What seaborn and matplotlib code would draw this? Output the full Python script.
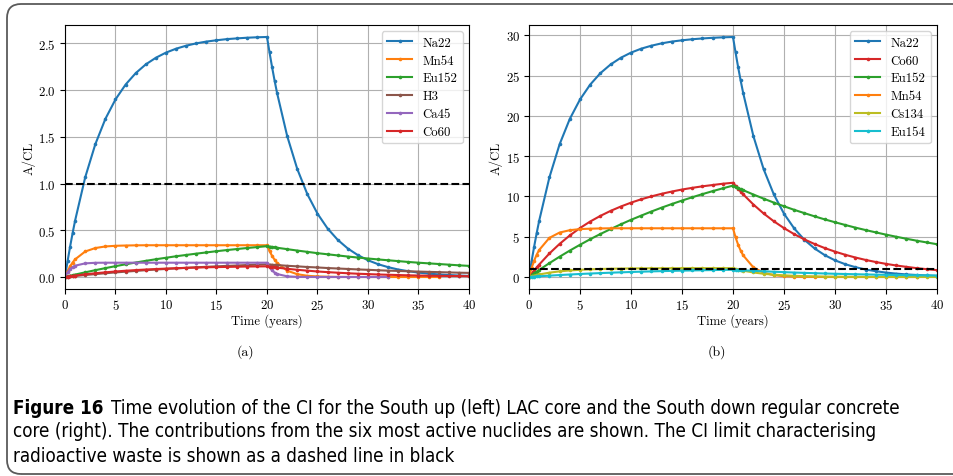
import matplotlib
matplotlib.use("Agg")
import numpy as np
import pandas as pd
import matplotlib.pyplot as plt
import seaborn as sns
from matplotlib.lines import Line2D
from matplotlib.patches import FancyBboxPatch
from matplotlib.transforms import IdentityTransform

# ---------------------------------------------------------------- data
time_years = [0, 0.25, 0.5, 0.75, 1,
              2, 3, 4, 5, 6, 7, 8, 9, 10, 11, 12, 13, 14, 15, 16, 17, 18, 19, 20,
              20.25, 20.5, 20.75, 21,
              22, 23, 24, 25, 26, 27, 28, 29, 30, 31, 32, 33, 34, 35, 36, 37, 38, 39, 40]

# (a) South up, LAC core
na22_a = [0.0, 0.166, 0.322, 0.468, 0.604,
          1.067, 1.421, 1.693, 1.901, 2.060, 2.182, 2.276, 2.347, 2.402, 2.444, 2.476, 2.501, 2.520,
          2.534, 2.546, 2.554, 2.561, 2.566, 2.569,
          2.404, 2.248, 2.103, 1.968,
          1.508, 1.155, 0.885, 0.678, 0.519, 0.398, 0.305, 0.234, 0.179, 0.137, 0.105, 0.080, 0.062,
          0.047, 0.036, 0.028, 0.021, 0.016, 0.012]
mn54_a = [0.0, 0.063, 0.113, 0.155, 0.189,
          0.273, 0.310, 0.327, 0.334, 0.337, 0.339, 0.340, 0.340, 0.340, 0.340, 0.340, 0.340, 0.340,
          0.340, 0.340, 0.340, 0.340, 0.340, 0.340,
          0.277, 0.227, 0.185, 0.151,
          0.067, 0.030, 0.013, 0.006, 0.003, 0.001, 0.0005, 0.0002, 0.0001, 0.0, 0.0, 0.0, 0.0,
          0.0, 0.0, 0.0, None, None, None]
eu152_a = [0.0, 0.0065, 0.013, 0.019, 0.026,
           0.050, 0.073, 0.095, 0.116, 0.136, 0.155, 0.173, 0.190, 0.206, 0.222, 0.236, 0.250, 0.263,
           0.276, 0.288, 0.299, 0.310, 0.320, 0.330,
           0.326, 0.322, 0.318, 0.313,
           0.298, 0.283, 0.269, 0.255, 0.243, 0.231, 0.219, 0.208, 0.198, 0.188, 0.179, 0.170, 0.161,
           0.153, 0.146, 0.139, 0.132, 0.125, 0.119]
h3_a = [0.0, 0.003, 0.006, 0.008, 0.011,
        0.021, 0.031, 0.040, 0.049, 0.057, 0.065, 0.073, 0.080, 0.086, 0.092, 0.098, 0.104, 0.109,
        0.114, 0.119, 0.123, 0.128, 0.132, 0.135,
        0.133, 0.131, 0.129, 0.128,
        0.120, 0.114, 0.107, 0.102, 0.096, 0.091, 0.086, 0.081, 0.077, 0.072, 0.068, 0.065, 0.061,
        0.058, 0.055, 0.052, 0.049, 0.046, 0.044]
ca45_a = [0.0, 0.049, 0.083, 0.105, 0.121,
          0.146, 0.152, 0.153, 0.153, 0.153, 0.153, 0.153, 0.153, 0.153, 0.153, 0.153, 0.153, 0.153,
          0.153, 0.153, 0.153, 0.153, 0.153, 0.153,
          0.104, 0.070, 0.048, 0.032,
          0.007, 0.0015, 0.0003, 0.0001, 0.0, 0.0, 0.0, 0.0, 0.0, 0.0, 0.0, None, None,
          None, None, None, None, None, None]
co60_a = [0.0, 0.004, 0.008, 0.012, 0.015,
          0.029, 0.040, 0.050, 0.059, 0.067, 0.074, 0.080, 0.085, 0.090, 0.094, 0.098, 0.101, 0.104,
          0.106, 0.108, 0.110, 0.112, 0.113, 0.114,
          0.110, 0.107, 0.103, 0.100,
          0.088, 0.077, 0.068, 0.059, 0.052, 0.046, 0.040, 0.035, 0.031, 0.027, 0.024, 0.021, 0.018,
          0.016, 0.014, 0.012, 0.011, 0.010, 0.008]

# (b) South down, regular concrete core
na22_b = [0.0, 1.93, 3.74, 5.43, 7.00,
          12.37, 16.48, 19.63, 22.04, 23.89, 25.31, 26.39, 27.22, 27.86, 28.35, 28.72, 29.01, 29.23,
          29.39, 29.52, 29.62, 29.70, 29.76, 29.80,
          27.88, 26.08, 24.40, 22.83,
          17.49, 13.40, 10.26, 7.86, 6.03, 4.62, 3.54, 2.71, 2.07, 1.59, 1.22, 0.93, 0.72,
          0.55, 0.42, 0.32, 0.25, 0.19, 0.14]
co60_b = [0.0, 0.41, 0.80, 1.18, 1.55,
          2.92, 4.11, 5.16, 6.08, 6.89, 7.59, 8.21, 8.75, 9.23, 9.65, 10.01, 10.33, 10.61,
          10.86, 11.07, 11.26, 11.42, 11.58, 11.70,
          11.32, 10.96, 10.60, 10.26,
          9.00, 7.89, 6.92, 6.07, 5.32, 4.67, 4.09, 3.59, 3.15, 2.76, 2.42, 2.12, 1.86,
          1.63, 1.43, 1.26, 1.10, 0.97, 0.85]
eu152_b = [0.0, 0.22, 0.45, 0.67, 0.88,
           1.72, 2.52, 3.28, 4.00, 4.69, 5.34, 5.95, 6.54, 7.10, 7.62, 8.13, 8.61, 9.06,
           9.49, 9.90, 10.29, 10.66, 11.01, 11.35,
           11.20, 11.06, 10.92, 10.78,
           10.24, 9.73, 9.24, 8.78, 8.34, 7.93, 7.53, 7.15, 6.80, 6.46, 6.13, 5.83, 5.54,
           5.26, 5.00, 4.75, 4.51, 4.29, 4.07]
mn54_b = [0.0, 1.11, 2.01, 2.76, 3.36,
          4.86, 5.52, 5.81, 5.95, 6.00, 6.03, 6.05, 6.05, 6.05, 6.05, 6.05, 6.05, 6.05,
          6.05, 6.05, 6.05, 6.05, 6.05, 6.05,
          4.93, 4.02, 3.28, 2.68,
          1.19, 0.53, 0.23, 0.10, 0.046, 0.020, 0.009, 0.004, 0.002, 0.001, 0.0, 0.0, 0.0,
          0.0, 0.0, 0.0, 0.0, None, None]
cs134_b = [0.0, 0.089, 0.170, 0.245, 0.314,
           0.538, 0.699, 0.813, 0.895, 0.953, 0.995, 1.025, 1.047, 1.062, 1.073, 1.080, 1.086, 1.090,
           1.093, 1.095, 1.096, 1.097, 1.098, 1.099,
           1.010, 0.929, 0.854, 0.785,
           0.562, 0.402, 0.288, 0.206, 0.147, 0.105, 0.075, 0.054, 0.039, 0.028, 0.020, 0.014, 0.010,
           0.007, 0.005, 0.004, 0.003, 0.002, 0.002]
eu154_b = [0.0, 0.022, 0.044, 0.066, 0.087,
           0.167, 0.242, 0.310, 0.373, 0.431, 0.484, 0.534, 0.580, 0.622, 0.661, 0.697, 0.730, 0.760,
           0.789, 0.815, 0.839, 0.861, 0.882, 0.900,
           0.882, 0.865, 0.847, 0.830,
           0.766, 0.707, 0.652, 0.602, 0.555, 0.512, 0.473, 0.436, 0.402, 0.371, 0.343, 0.316, 0.292,
           0.269, 0.248, 0.229, 0.211, 0.195, 0.180]

ci_limit = 1.0

nuclides_a = ["Na22", "Mn54", "Eu152", "H3", "Ca45", "Co60"]
values_a = [na22_a, mn54_a, eu152_a, h3_a, ca45_a, co60_a]
colors_a = ["#1f77b4", "#ff7f0e", "#2ca02c", "#8c564b", "#9467bd", "#d62728"]

nuclides_b = ["Na22", "Co60", "Eu152", "Mn54", "Cs134", "Eu154"]
values_b = [na22_b, co60_b, eu152_b, mn54_b, cs134_b, eu154_b]
colors_b = ["#1f77b4", "#d62728", "#2ca02c", "#ff7f0e", "#bcbd22", "#17becf"]

caption_bold = "Figure 16"
caption_lines = [
    "Time evolution of the CI for the South up (left) LAC core and the South down regular concrete",
    "core (right). The contributions from the six most active nuclides are shown. The CI limit characterising",
    "radioactive waste is shown as a dashed line in black",
]

# ---------------------------------------------------------------- style
plt.rcParams.update({
    "font.family": "serif",
    "font.serif": ["cmr10"],
    "mathtext.fontset": "cm",
    "axes.formatter.use_mathtext": True,
    "axes.unicode_minus": False,
    "font.size": 9,
})

W, H = 954, 477
fig = plt.figure(figsize=(W / 100, H / 100), dpi=100)
ax_a = fig.add_axes([65 / W, 1 - 290 / H, (469 - 65) / W, (290 - 26) / H])
ax_b = fig.add_axes([529 / W, 1 - 290 / H, (937 - 529) / W, (290 - 26) / H])

FS = 9.2


def draw_panel(ax, names, series, colors):
    frames = [pd.DataFrame({"Time": time_years,
                            "A/CL": pd.array(vals, dtype="Float64").astype(float),
                            "Nuclide": name})
              for name, vals in zip(names, series)]
    df = pd.concat(frames, ignore_index=True)
    sns.lineplot(data=df, x="Time", y="A/CL", hue="Nuclide", hue_order=names,
                 palette=dict(zip(names, colors)), marker="o", markersize=2.6,
                 markeredgewidth=0, linewidth=1.5, legend=False, errorbar=None, ax=ax)
    for ln in ax.lines:
        ln.set_markeredgecolor(ln.get_color())
    ax.axhline(ci_limit, color="black", linestyle="--", linewidth=1.5)
    ax.set_xlim(0, 40)
    ax.set_xticks(np.arange(0, 41, 5))
    ax.grid(True, color="#b0b0b0", linewidth=0.8)
    ax.set_axisbelow(True)
    ax.set_xlabel("Time (years)", fontsize=FS, labelpad=0.5)
    ax.set_ylabel("A/CL", fontsize=FS, labelpad=2)
    ax.tick_params(labelsize=FS, pad=3)
    for s in ax.spines.values():
        s.set_color("black")
        s.set_linewidth(0.8)
    handles = [Line2D([], [], color=c, marker="o", markersize=2.6, markeredgewidth=0,
                      linewidth=1.5) for c in colors]
    ax.legend(handles, names, loc="upper right", fontsize=FS, framealpha=0.8,
              labelspacing=0.45)


draw_panel(ax_a, nuclides_a, values_a, colors_a)
draw_panel(ax_b, nuclides_b, values_b, colors_b)
ax_a.set_yticks(np.arange(0, 2.51, 0.5))
ax_b.set_yticks(np.arange(0, 31, 5))

fig.text(245 / W, 1 - 352 / H, "(a)", ha="center", va="center", fontsize=10)
fig.text(717 / W, 1 - 352 / H, "(b)", ha="center", va="center", fontsize=10)

# caption, sized so the first line spans the text block
cap_kw = dict(family="DejaVu Sans", stretch="condensed", va="center", ha="left")
left_px, right_px, gap_px = 13, 906, 8
size0 = 12.0
bold = fig.text(left_px / W, 1 - 408 / H, caption_bold, fontsize=size0, fontweight="bold", **cap_kw)
rest = fig.text(0, 1 - 408 / H, caption_lines[0], fontsize=size0, **cap_kw)
renderer = fig.canvas.get_renderer()
w0 = bold.get_window_extent(renderer).width + gap_px + rest.get_window_extent(renderer).width
size = size0 * (right_px - left_px) / w0
bold.set_fontsize(size)
rest.set_fontsize(size)
bb = bold.get_window_extent(renderer)
rest.set_x((bb.x1 + gap_px) / W)
for y_px, line in zip([432, 457], caption_lines[1:]):
    fig.text(left_px / W, 1 - y_px / H, line, fontsize=size, **cap_kw)

# rounded frame around the figure block
frame = FancyBboxPatch((7, 2), 980, 470, boxstyle="round,pad=0,rounding_size=14",
                       transform=IdentityTransform(), fill=False,
                       edgecolor="#5a5a5a", linewidth=1.3)
fig.add_artist(frame)

fig.savefig("out.png", dpi=100)
